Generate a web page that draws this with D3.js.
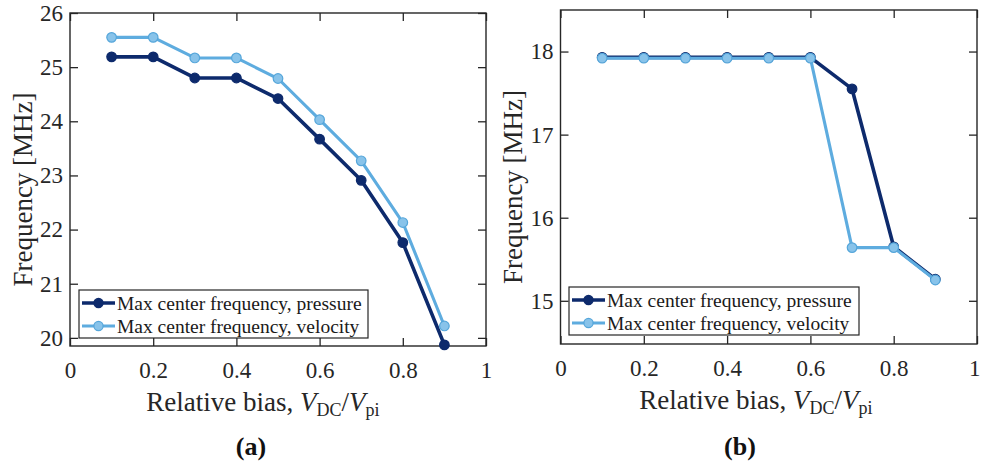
<!DOCTYPE html>
<html>
<head>
<meta charset="utf-8">
<script src="https://cdn.jsdelivr.net/npm/d3@7"></script>
<style>
  html, body { margin: 0; padding: 0; background: #fff; }
  svg { display: block; }
  svg text { font-family: "Liberation Serif", "Tinos", "Times New Roman", "DejaVu Serif", serif; }
</style>
</head>
<body>
<svg id="fig" width="981" height="465"></svg>
<script>
// Relative bias values (V_DC / V_pi)
const bias = [0.1, 0.2, 0.3, 0.4, 0.5, 0.6, 0.7, 0.8, 0.9];

// (a) maximum center frequency [MHz]
const aPressure = [25.19, 25.19, 24.80, 24.80, 24.42, 23.67, 22.91, 21.76, 19.87];
const aVelocity = [25.55, 25.55, 25.17, 25.17, 24.79, 24.03, 23.27, 22.13, 20.22];

// (b) maximum center frequency [MHz]
const bPressure = [17.93, 17.93, 17.93, 17.93, 17.93, 17.93, 17.55, 15.65, 15.26];
const bVelocity = [17.92, 17.92, 17.92, 17.92, 17.92, 17.92, 15.64, 15.64, 15.25];

const xTicks = [0, 0.2, 0.4, 0.6, 0.8, 1];
const aYTicks = [20, 21, 22, 23, 24, 25, 26];
const bYTicks = [15, 16, 17, 18];
const seriesNames = ["Max center frequency, pressure", "Max center frequency, velocity"];
const panelTags = ["(a)", "(b)"];

const styles = [
  { line: "#0d2a6c", width: 3.6, fill: "#0d2a6c", stroke: "#0d2a6c" },
  { line: "#5eacdf", width: 3.1, fill: "#88c3ea", stroke: "#55a6da" }
];

const svg = d3.select("#fig");
const ink = "#262626";
const serif = "'Liberation Serif', Tinos, 'Times New Roman', 'DejaVu Serif', serif";

function panel(cfg) {
  const x = d3.scaleLinear().domain([0, 1]).range([cfg.left, cfg.right]);
  const y = d3.scaleLinear().domain(cfg.yDomain).range([cfg.bottom, cfg.top]);
  const g = svg.append("g").attr("font-family", serif);

  const fmtX = d => d === 0 || d === 1 ? d3.format("d")(d) : d3.format(".1f")(d);

  // four inward-ticked sides
  const axB = g.append("g").attr("transform", `translate(0,${cfg.bottom})`)
    .call(d3.axisBottom(x).tickValues(xTicks).tickFormat(fmtX).tickSizeInner(-8).tickSizeOuter(0).tickPadding(16));
  const axT = g.append("g").attr("transform", `translate(0,${cfg.top})`)
    .call(d3.axisTop(x).tickValues(xTicks).tickFormat("").tickSizeInner(-8).tickSizeOuter(0));
  const axL = g.append("g").attr("transform", `translate(${cfg.left},0)`)
    .call(d3.axisLeft(y).tickValues(cfg.yTicks).tickFormat(d3.format("d")).tickSizeInner(-8).tickSizeOuter(0).tickPadding(7));
  const axR = g.append("g").attr("transform", `translate(${cfg.right},0)`)
    .call(d3.axisRight(y).tickValues(cfg.yTicks).tickFormat("").tickSizeInner(-8).tickSizeOuter(0));

  [axB, axT, axL, axR].forEach(a => {
    a.attr("font-family", serif);
    a.select(".domain").remove();
    a.selectAll(".tick line").attr("stroke", ink).attr("stroke-width", 1.3);
    a.selectAll(".tick text").attr("fill", ink).attr("font-size", 23);
  });

  // keep the last x label inside the page when the frame reaches the edge
  if (cfg.lastLabelEnd) {
    axB.selectAll(".tick text").filter(d => d === 1)
      .attr("text-anchor", "end").attr("x", cfg.lastLabelEnd - x(1));
  }

  // frame
  g.append("rect")
    .attr("x", cfg.left).attr("y", cfg.top)
    .attr("width", cfg.right - cfg.left).attr("height", cfg.bottom - cfg.top)
    .attr("fill", "none").attr("stroke", ink).attr("stroke-width", 1.4);

  // series
  const line = d3.line().x((d, i) => x(bias[i])).y(d => y(d));
  cfg.series.forEach((vals, k) => {
    const st = styles[k];
    g.append("path").datum(vals)
      .attr("d", line).attr("fill", "none")
      .attr("stroke", st.line).attr("stroke-width", st.width)
      .attr("stroke-linejoin", "round");
    g.selectAll(null).data(vals).enter().append("circle")
      .attr("cx", (d, i) => x(bias[i])).attr("cy", d => y(d))
      .attr("r", 4.8).attr("fill", st.fill).attr("stroke", st.stroke).attr("stroke-width", 1.2);
  });

  // axis labels
  const xl = g.append("text")
    .attr("x", cfg.xLabelX).attr("y", cfg.xLabelY)
    .attr("text-anchor", "middle").attr("font-size", 27).attr("fill", ink);
  xl.append("tspan").text("Relative bias, ");
  xl.append("tspan").attr("font-style", "italic").text("V");
  xl.append("tspan").attr("font-size", 18).attr("dy", 5).text("DC");
  xl.append("tspan").attr("dy", -5).text("/");
  xl.append("tspan").attr("font-style", "italic").text("V");
  xl.append("tspan").attr("font-size", 18).attr("dy", 5).text("pi");

  g.append("text")
    .attr("transform", `translate(${cfg.yLabelX},${(cfg.top + cfg.bottom) / 2 + 10}) rotate(-90)`)
    .attr("text-anchor", "middle").attr("font-size", 27).attr("fill", ink)
    .text("Frequency [MHz]");

  // panel tag
  g.append("text")
    .attr("x", cfg.tagX).attr("y", 455)
    .attr("text-anchor", "middle").attr("font-size", 26).attr("font-weight", "bold")
    .attr("fill", "#111").text(cfg.tag);

  // legend
  const lg = g.append("g").attr("transform", `translate(${cfg.legX},${cfg.legY})`);
  lg.append("rect").attr("width", cfg.legW).attr("height", 48)
    .attr("fill", "#fff").attr("stroke", ink).attr("stroke-width", 1.2);
  seriesNames.forEach((name, k) => {
    const st = styles[k];
    const cy = 13 + k * 23;
    lg.append("line").attr("x1", 3).attr("x2", 36).attr("y1", cy).attr("y2", cy)
      .attr("stroke", st.line).attr("stroke-width", st.width);
    lg.append("circle").attr("cx", 19.5).attr("cy", cy).attr("r", 4.6)
      .attr("fill", st.fill).attr("stroke", st.stroke).attr("stroke-width", 1.2);
    lg.append("text").attr("x", 38).attr("y", cy + 6.5)
      .attr("font-size", 19.5).attr("fill", "#1a1a1a").text(name);
  });
}

panel({
  left: 70, right: 486, top: 13, bottom: 346,
  yDomain: [19.85, 26], yTicks: aYTicks,
  series: [aPressure, aVelocity],
  xLabelX: 263, xLabelY: 411, yLabelX: 32,
  tag: panelTags[0], tagX: 251,
  legX: 79, legY: 290, legW: 289
});

panel({
  left: 560.5, right: 977, top: 10, bottom: 344,
  yDomain: [14.48, 18.5], yTicks: bYTicks,
  series: [bPressure, bVelocity],
  xLabelX: 756, xLabelY: 409, yLabelX: 522,
  tag: panelTags[1], tagX: 740,
  legX: 569, legY: 287, legW: 290,
  lastLabelEnd: 980
});
</script>
</body>
</html>
